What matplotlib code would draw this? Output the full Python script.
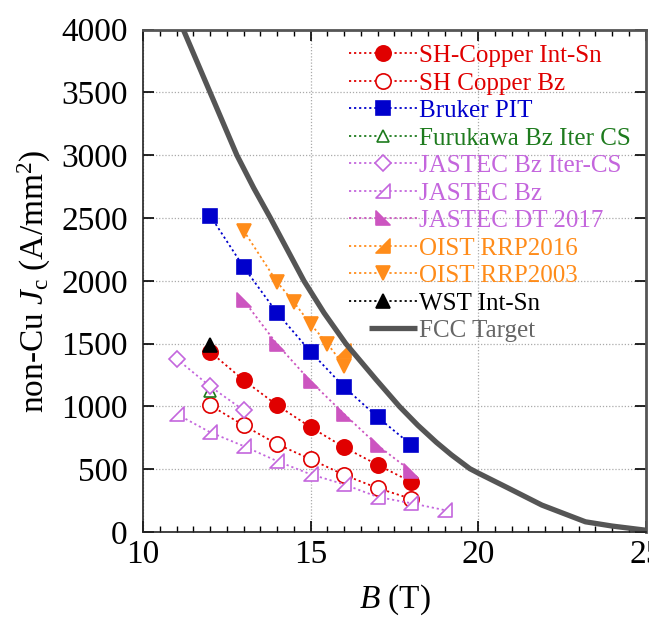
import numpy as np
import matplotlib
matplotlib.use("Agg")
import matplotlib.pyplot as plt
from matplotlib.path import Path
from matplotlib.legend_handler import HandlerLine2D

plt.rcParams['font.family'] = ['Liberation Serif', 'DejaVu Serif']
plt.rcParams['mathtext.fontset'] = 'custom'
plt.rcParams['mathtext.rm'] = 'Liberation Serif'
plt.rcParams['mathtext.it'] = 'Liberation Serif:italic'

# data
b_sh_int = [12, 13, 14, 15, 16, 17, 18]
j_sh_int = [1435, 1210, 1010, 835, 675, 535, 400]

b_sh_bz = [12, 13, 14, 15, 16, 17, 18]
j_sh_bz = [1010, 850, 700, 580, 455, 350, 265]

b_bruker = [12, 13, 14, 15, 16, 17, 18]
j_bruker = [2520, 2110, 1745, 1435, 1155, 915, 695]

b_furukawa = [12]
j_furukawa = [1120]

b_jastec_iter = [11, 12, 13]
j_jastec_iter = [1380, 1160, 970]

b_jastec_bz = [11, 12, 13, 14, 15, 16, 17, 18, 19]
j_jastec_bz = [940, 795, 685, 565, 460, 380, 280, 230, 175]

b_jastec_dt = [13, 14, 15, 16, 17, 18]
j_jastec_dt = [1845, 1495, 1200, 940, 690, 485]

b_rrp2016 = [16]
j_rrp2016 = [1440]

b_rrp2003 = [13, 14, 14.5, 15, 15.5, 16]
j_rrp2003 = [2400, 1990, 1830, 1655, 1500, 1325]

b_wst = [12]
j_wst = [1490]

b_fcc = [11.2, 12.0, 12.8, 13.3, 13.8, 14.3, 14.8, 15.4, 16.05, 16.95, 17.65,
         18.2, 18.75, 19.2, 19.75, 20.0, 20.9, 21.9, 23.2, 24.0, 25.0]
j_fcc = [4000, 3500, 3000, 2740, 2500, 2250, 2000, 1745, 1500, 1215, 1000,
         850, 715, 615, 505, 470, 350, 215, 82, 48, 15]

# right-triangle markers
tri_br = Path([(-1, -1), (1, -1), (1, 1), (-1, -1)], [1, 2, 2, 79])   # right angle bottom-right
tri_bl = Path([(-1, 1), (-1, -1), (1, -1), (-1, 1)], [1, 2, 2, 79])   # right angle bottom-left

red = '#e00000'
blue = '#0000cc'
green = '#1e7b1e'
violet = '#c466dd'
magenta = '#cc55c0'
orange = '#ff8c1a'

dot = (0, (1.2, 1.6))
lw = 1.3

fig = plt.figure(figsize=(6.49, 6.18), dpi=100)
ax = fig.add_axes([0.2205, 0.139, 0.7745, 0.813])

series = [
    (b_sh_int, j_sh_int, 'o', red, red, 11, 'SH-Copper Int-Sn', red),
    (b_sh_bz, j_sh_bz, 'o', red, 'white', 11, 'SH Copper Bz', red),
    (b_bruker, j_bruker, 's', blue, blue, 10.5, 'Bruker PIT', blue),
    (b_furukawa, j_furukawa, '^', green, 'white', 9, 'Furukawa Bz Iter CS', green),
    (b_jastec_iter, j_jastec_iter, 'D', violet, 'white', 8.5, 'JASTEC Bz Iter-CS', violet),
    (b_jastec_bz, j_jastec_bz, tri_br, violet, 'white', 10, 'JASTEC Bz', violet),
    (b_jastec_dt, j_jastec_dt, tri_bl, magenta, magenta, 10.5, 'JASTEC DT 2017', violet),
    (b_rrp2016, j_rrp2016, tri_br, orange, orange, 10.5, 'OIST RRP2016', orange),
    (b_rrp2003, j_rrp2003, 'v', orange, orange, 10.5, 'OIST RRP2003', orange),
    (b_wst, j_wst, '^', 'black', 'black', 10.5, 'WST Int-Sn', 'black'),
]

text_colors = []
for b, j, m, c, fc, ms, lab, tc in series:
    ax.plot(b, j, linestyle=dot, lw=lw, color=c, marker=m, markersize=ms,
            markerfacecolor=fc, markeredgecolor=c, markeredgewidth=1.2, label=lab)
    text_colors.append(tc)

fcc_line, = ax.plot(b_fcc, j_fcc, color='#555555', lw=3.8, label='FCC Target',
                    solid_joinstyle='round', solid_capstyle='butt')
text_colors.append('#666666')

ax.set_xlim(10, 25)
ax.set_ylim(0, 4000)
ax.set_xticks([10, 15, 20, 25])
ax.set_xticks(np.arange(10, 25.01, 0.5), minor=True)
ax.set_yticks(np.arange(0, 4001, 500))
ax.grid(True, which='major', linestyle=(0, (1, 1.5)), color='#aaaaaa', lw=0.9)

ax.tick_params(which='both', direction='in', top=True, right=True, labelsize=24)
ax.tick_params(which='major', length=8, width=1.2)
ax.tick_params(which='minor', length=4, width=1.0)
ax.tick_params(axis='x', pad=5)
ax.tick_params(axis='y', pad=11)

for s in ['left', 'bottom']:
    ax.spines[s].set_linewidth(1.2)
    ax.spines[s].set_color('#222222')
for s in ['top', 'right']:
    ax.spines[s].set_linewidth(2.0)
    ax.spines[s].set_color('#555555')

ax.set_xlabel(r'$\mathit{B}$ (T)', fontsize=24, labelpad=9)
ax.set_ylabel(r'non-Cu $\mathit{J}_{\mathrm{c}}$ (A/mm$^{2}$)', fontsize=24, labelpad=6)

leg = ax.legend(loc='upper right', bbox_to_anchor=(1.0, 1.0), frameon=False,
                fontsize=18, numpoints=1, handlelength=2.7, handletextpad=0.1,
                labelspacing=0.2, borderaxespad=0.2,
                handler_map={fcc_line: HandlerLine2D(xpad=0.8)})
for t, c in zip(leg.get_texts(), text_colors):
    t.set_color(c)

fig.savefig('out.png', dpi=100)
